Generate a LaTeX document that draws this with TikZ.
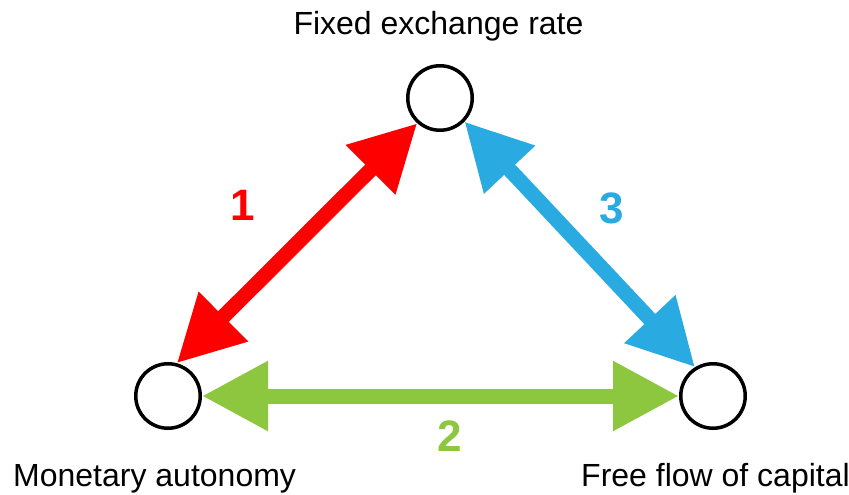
\documentclass[tikz,border=0pt]{standalone}
\usepackage{fontspec}
\setmainfont{Liberation Sans}
\usetikzlibrary{arrows.meta}
\definecolor{cred}{HTML}{FF0000}
\definecolor{cblue}{HTML}{29ABE2}
\definecolor{cgreen}{HTML}{8DC63F}
\tikzset{
  corner/.style={circle, draw=black, line width=3.5pt, minimum size=64.5pt, inner sep=0pt, fill=white},
  bigarrow/.style={line width=15pt, {Triangle[length=66pt,width=66pt]}-{Triangle[length=66pt,width=66pt]}},
  caption/.style={font=\fontsize{32}{38}\selectfont, inner sep=0pt},
  num/.style={font=\fontsize{44}{50}\selectfont\bfseries, inner sep=0pt}
}
\begin{document}
\begin{tikzpicture}[x=1pt,y=-1pt]
\useasboundingbox (0,0) rectangle (849,495);
\node[corner] (top) at (440,98) {};
\node[corner] (lm) at (168,396) {};
\node[corner] (rf) at (713,396) {};
\draw[bigarrow, cred] (lm.75) -- (top.228);
\draw[bigarrow, cblue] (top.316) -- (rf.122);
\draw[bigarrow, cgreen] (lm.east) -- (rf.west);
\node[caption, anchor=base] (tfix) at (438.5,35) {Fixed exchange rate};
\node[caption, anchor=base west] (tmon) at (13,486) {Monetary autonomy};
\node[caption, anchor=base west] (tfree) at (581,486) {Free flow of capital};
\node[num, text=cred] (n1) at (243,205) {1};
\node[num, text=cgreen] (n2) at (450,436) {2};
\node[num, text=cblue] (n3) at (612,208) {3};
\end{tikzpicture}
\end{document}
